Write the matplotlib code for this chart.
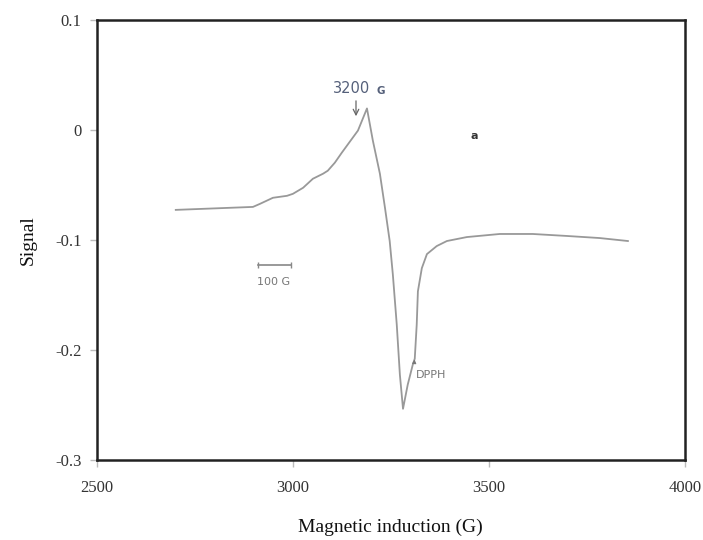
import matplotlib
matplotlib.use('Agg')
import numpy as np
import matplotlib.pyplot as plt

# EPR spectrum
field_g = [2701, 2898, 2916, 2949, 2985, 3000, 3026, 3051, 3077, 3089,
           3107, 3125, 3166, 3189, 3204, 3222, 3235, 3247, 3255, 3265,
           3273, 3281, 3293, 3306, 3311, 3316, 3319, 3329, 3342, 3367,
           3393, 3444, 3528, 3612, 3699, 3783, 3855]
signal = [-0.0726, -0.0699, -0.0671, -0.0616, -0.0598, -0.0580, -0.0525,
          -0.0443, -0.0397, -0.0370, -0.0297, -0.0205, -0.0005, 0.0196,
          -0.0096, -0.0397, -0.0708, -0.1009, -0.1311, -0.1767, -0.2224,
          -0.2534, -0.2315, -0.2132, -0.2078, -0.1767, -0.1466, -0.1256,
          -0.1128, -0.1055, -0.1009, -0.0973, -0.0945, -0.0945, -0.0963,
          -0.0982, -0.1009]

x_ticks = [2500, 3000, 3500, 4000]
y_ticks = [0.1, 0, -0.1, -0.2, -0.3]
y_labels = ['0.1', '0', '-0.1', '-0.2', '-0.3']

serif = ['Liberation Serif', 'DejaVu Serif']

fig = plt.figure(figsize=(7.03, 5.4), dpi=100)
ax = fig.add_axes([0.138, 0.148, 0.836, 0.815])

ax.plot(field_g, signal, color='#999999', lw=1.3)

ax.set_xlim(2500, 4000)
ax.set_ylim(-0.3, 0.1)
ax.set_xticks(x_ticks)
ax.set_xticklabels([str(t) for t in x_ticks], family=serif, fontsize=12,
                   color='#333333')
ax.set_yticks(y_ticks)
ax.set_yticklabels(y_labels, family=serif, fontsize=12, color='#333333')
ax.tick_params(axis='both', direction='out', length=5, width=1,
               color='#bbbbbb')
ax.tick_params(axis='x', pad=9)
ax.tick_params(axis='y', pad=6)
for s in ax.spines.values():
    s.set_linewidth(1.8)
    s.set_color('#222222')

ax.set_xlabel('Magnetic induction (G)', family=serif, fontsize=14,
              labelpad=17, color='#111111')
ax.set_ylabel('Signal', family=serif, fontsize=14, labelpad=13,
              color='#111111')

# annotations from the original spectrum
ax.text(3150, 0.038, '3200', color='#55607a', fontsize=10.5,
        ha='center', va='center', family='DejaVu Sans')
ax.text(3224, 0.035, 'G', color='#55607a', fontsize=7.5, fontweight='bold',
        ha='center', va='center')
ax.annotate('', xy=(3161, 0.010), xytext=(3161, 0.029),
            arrowprops=dict(arrowstyle='->', color='#666666', lw=0.9))
ax.text(3464, -0.005, 'a', fontsize=8, fontweight='bold', color='#333333',
        ha='center', va='center')

ax.plot([2911, 2995], [-0.1228, -0.1228], color='#888888', lw=1.2,
        marker='|', ms=5)
ax.text(2950, -0.1384, '100 G', fontsize=8, color='#777777',
        ha='center', va='center')

ax.annotate('', xy=(3311, -0.2060), xytext=(3309, -0.2150),
            arrowprops=dict(arrowstyle='-|>', color='#777777', lw=0.6,
                            mutation_scale=6))
ax.text(3313, -0.2224, 'DPPH', fontsize=8, color='#777777',
        ha='left', va='center')

fig.savefig('out.png', dpi=100)
